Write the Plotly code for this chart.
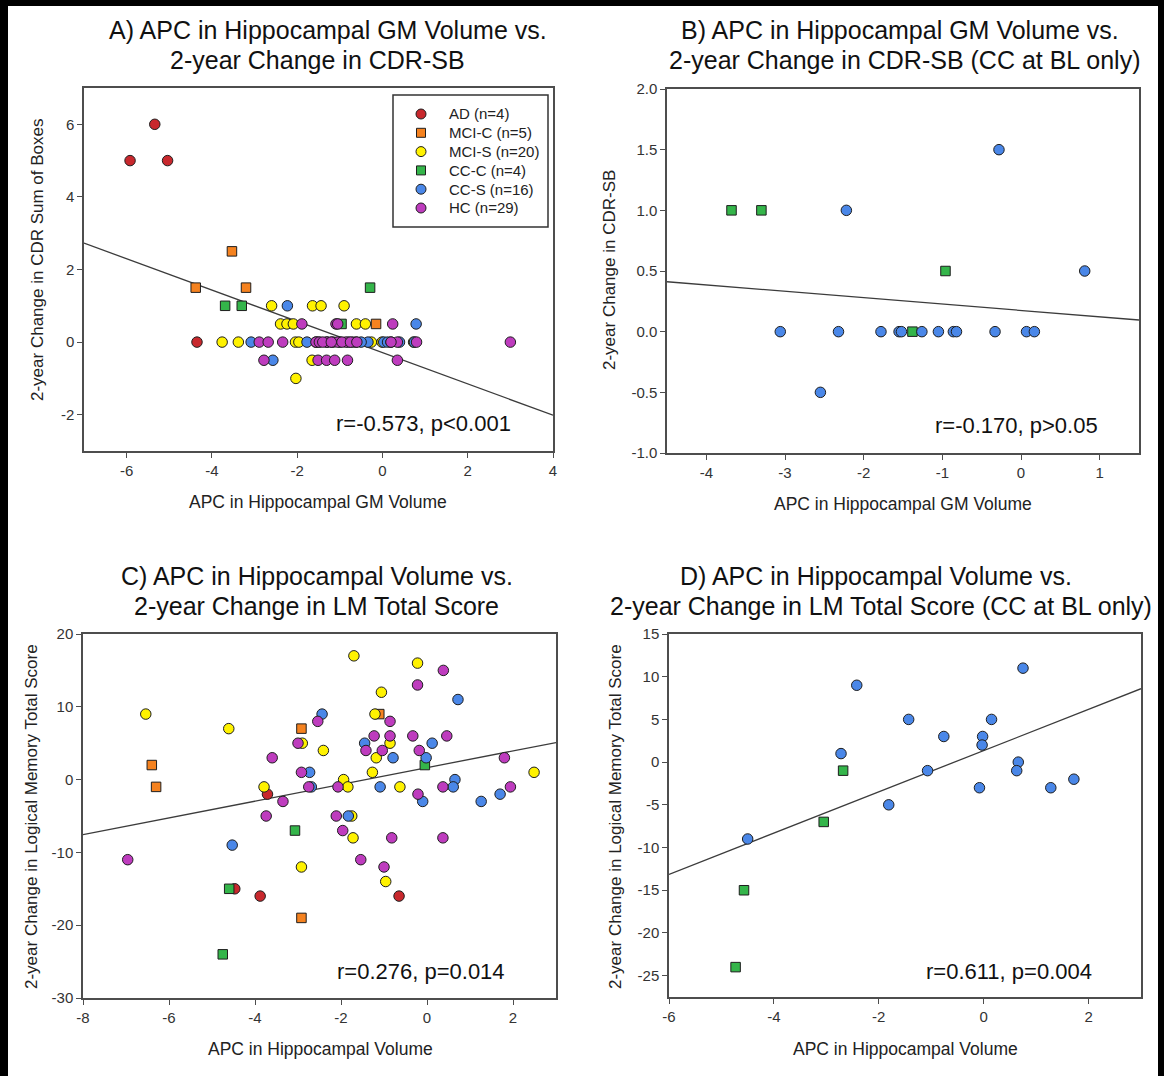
import plotly.graph_objects as go

W, H = 1164, 1076
FONT = "Liberation Sans, Arial, sans-serif"

# ---------------- Panel A: APC in hippocampal GM volume vs. 2-year change in CDR-SB
a_ad_x = [-5.92, -5.34, -5.04, -4.35]
a_ad_y = [5, 6, 5, 0]
a_mcic_x = [-3.53, -4.38, -3.20, -0.15, -1.20]
a_mcic_y = [2.5, 1.5, 1.5, 0.5, 0]
a_mcis_x = [-2.60, -1.64, -1.44, -0.90, -2.39, -2.24, -2.09, -0.61, -0.40, -3.76,
            -3.38, -2.04, -1.96, -0.26, -0.01, -1.65, -2.03, -1.56, -0.62, 0.73]
a_mcis_y = [1, 1, 1, 1, 0.5, 0.5, 0.5, 0.5, 0.5, 0,
            0, 0, 0, 0, 0, -0.5, -1, 0, 0, 0]
a_ccc_x = [-3.69, -3.30, -0.29, -0.96]
a_ccc_y = [1, 1, 1.5, 0.5]
a_ccs_x = [-2.23, 0.79, -3.08, -1.77, -0.34, 0.03, 0.12, -2.57,
           0.75, -1.50, -1.30, -1.00, -0.80, 0.20, 0.40, -0.50]
a_ccs_y = [1, 0.5, 0, 0, 0, 0, 0, -0.5,
           0, 0, 0, 0, 0, 0, 0, 0]
a_hc_x = [-1.89, -1.09, -1.05, 0.24,
          -2.89, -2.68, -2.34, -1.56, -1.48, -1.31, -1.17, -1.05, -0.86, -0.70, 0.35, 0.80, 3.00,
          -2.78, -1.51, -1.31, -1.12, -0.82, 0.35,
          -1.40, -1.20, -0.95, -0.75, -0.60, 0.20]
a_hc_y = [0.5, 0.5, 0.5, 0.5,
          0, 0, 0, 0, 0, 0, 0, 0, 0, 0, 0, 0, 0,
          -0.5, -0.5, -0.5, -0.5, -0.5, -0.5,
          0, 0, 0, 0, 0, 0]
fit_a = (-0.431, -0.29)   # slope, intercept
stat_a = "r=-0.573, p<0.001"
ticks_ax = [-6, -4, -2, 0, 2, 4]
ticks_ay = [-2, 0, 2, 4, 6]

# ---------------- Panel B: CC at baseline only
b_ccc_x = [-3.68, -3.30, -0.96, -1.38]
b_ccc_y = [1.0, 1.0, 0.5, 0.0]
b_ccs_x = [-3.06, -2.55, -2.32, -2.22, -1.78, -1.55, -1.52, -1.26,
           -1.05, -0.86, -0.82, -0.33, -0.28, 0.07, 0.17, 0.81]
b_ccs_y = [0.0, -0.5, 0.0, 1.0, 0.0, 0.0, 0.0, 0.0,
           0.0, 0.0, 0.0, 0.0, 1.5, 0.0, 0.0, 0.5]
fit_b = (-0.0525, 0.175)
stat_b = "r=-0.170, p>0.05"
ticks_bx = [-4, -3, -2, -1, 0, 1]
ticks_by = [-1.0, -0.5, 0.0, 0.5, 1.0, 1.5, 2.0]

# ---------------- Panel C: APC in hippocampal volume vs. 2-year change in LM total score
c_ad_x = [-3.71, -4.47, -3.88, -0.65]
c_ad_y = [-2, -15, -16, -16]
c_mcic_x = [-6.40, -6.30, -2.92, -2.92, -1.11]
c_mcic_y = [2, -1, 7, -19, 9]
c_mcis_x = [-6.54, -4.61, -1.70, -0.22, -1.06, -1.21, -2.90, -2.41, -0.86, -1.18,
            -1.27, -1.94, -1.84, -0.63, -3.79, -1.75, -1.72, -2.92, -0.96, 2.49]
c_mcis_y = [9, 7, 17, 16, 12, 9, 5, 4, 5, 3,
            1, 0, -1, -1, -1, -5, -8, -12, -14, 1]
c_ccc_x = [-3.07, -4.60, -4.75, -0.05]
c_ccc_y = [-7, -15, -24, 2]
c_ccs_x = [0.72, -2.44, -1.45, 0.12, -0.79, -0.02, -2.73, -1.09,
           0.65, 0.61, -0.10, 1.26, 1.70, -1.83, -4.53, -2.69]
c_ccs_y = [11, 9, 5, 5, 3, 3, 1, -1,
           0, -1, -3, -3, -2, -5, -9, -1]
c_hc_x = [0.38, -0.22, -2.54, -0.86, -3.00, -1.23, -0.86, -0.33, 0.46, -1.42,
          -1.04, -0.18, -3.60, -2.92, 1.80, -2.75, -2.07, 0.37, 1.94, -3.35,
          -0.21, -3.74, -2.11, -1.96, -0.82, 0.37, -1.54, -1.00, -6.96]
c_hc_y = [15, 13, 8, 8, 5, 6, 6, 6, 6, 4,
          4, 4, 3, 1, 3, -1, -1, -1, -1, -3,
          -2, -5, -5, -7, -8, -8, -11, -12, -11]
fit_c = (1.151, 1.64)
stat_c = "r=0.276, p=0.014"
ticks_cx = [-8, -6, -4, -2, 0, 2]
ticks_cy = [-30, -20, -10, 0, 10, 20]

# ---------------- Panel D: CC at baseline only
d_ccc_x = [-2.68, -3.05, -4.57, -4.73]
d_ccc_y = [-1, -7, -15, -24]
d_ccs_x = [-4.50, -2.72, -2.42, -1.81, -1.43, -1.07, -0.76, -0.08,
           -0.02, -0.03, 0.15, 0.75, 0.66, 0.63, 1.28, 1.72]
d_ccs_y = [-9, 1, 9, -5, 5, -1, 3, -3,
           3, 2, 5, 11, 0, -1, -3, -2]
fit_d = (2.416, 1.35)
stat_d = "r=0.611, p=0.004"
ticks_dx = [-6, -4, -2, 0, 2]
ticks_dy = [-25, -20, -15, -10, -5, 0, 5, 10, 15]

# group names and styles (legend order)
groups = ["AD (n=4)", "MCI-C (n=5)", "MCI-S (n=20)", "CC-C (n=4)", "CC-S (n=16)", "HC (n=29)"]
colors = ["#c8282d", "#f5821f", "#fff200", "#34b54a", "#4a87e8", "#be3cbe"]
symbols = ["circle", "square", "circle", "square", "circle", "circle"]
STYLE = {g: (c, s) for g, c, s in zip(groups, colors, symbols)}

fig = go.Figure()


def pts(x, y, name, xa, ya):
    color, symbol = STYLE[name]
    fig.add_trace(go.Scatter(
        x=x, y=y, mode="markers", name=name, showlegend=False,
        marker=dict(color=color, symbol=symbol, size=10.5 if symbol == "circle" else 9.5,
                    line=dict(color="#1e1e1e", width=1)),
        xaxis=xa, yaxis=ya))


def fit_line(fit, xr, xa, ya):
    slope, icpt = fit
    fig.add_trace(go.Scatter(
        x=list(xr), y=[icpt + slope * v for v in xr], mode="lines", showlegend=False,
        line=dict(color="#3c3c3c", width=1.3), xaxis=xa, yaxis=ya, hoverinfo="skip"))


XR = {"A": (-7, 4), "B": (-4.5, 1.5), "C": (-8, 3), "D": (-6, 3)}
YR = {"A": (-3, 7), "B": (-1, 2), "C": (-30, 20), "D": (-27.5, 15)}

# Panel A
fit_line(fit_a, XR["A"], "x", "y")
for name, x, y in zip(groups, [a_ad_x, a_mcic_x, a_mcis_x, a_ccc_x, a_ccs_x, a_hc_x],
                      [a_ad_y, a_mcic_y, a_mcis_y, a_ccc_y, a_ccs_y, a_hc_y]):
    pts(x, y, name, "x", "y")

# Panel B
fit_line(fit_b, XR["B"], "x2", "y2")
pts(b_ccc_x, b_ccc_y, "CC-C (n=4)", "x2", "y2")
pts(b_ccs_x, b_ccs_y, "CC-S (n=16)", "x2", "y2")

# Panel C
fit_line(fit_c, XR["C"], "x3", "y3")
for name, x, y in zip(groups, [c_ad_x, c_mcic_x, c_mcis_x, c_ccc_x, c_ccs_x, c_hc_x],
                      [c_ad_y, c_mcic_y, c_mcis_y, c_ccc_y, c_ccs_y, c_hc_y]):
    pts(x, y, name, "x3", "y3")

# Panel D
fit_line(fit_d, XR["D"], "x4", "y4")
pts(d_ccc_x, d_ccc_y, "CC-C (n=4)", "x4", "y4")
pts(d_ccs_x, d_ccs_y, "CC-S (n=16)", "x4", "y4")


def px_x(p):
    return p / W


def px_y(p):
    return 1 - p / H


def label(v, fmt):
    return fmt.format(v)  # plain hyphen-minus for negatives


def axis(x0, x1, rng, tv, anchor, fmt="{:g}"):
    return dict(domain=[x0, x1], range=list(rng), anchor=anchor,
                tickvals=tv, ticktext=[label(v, fmt) for v in tv],
                showline=True, mirror=True, linecolor="#4d4d4d", linewidth=1.5,
                ticks="outside", ticklen=5, tickwidth=1.2, tickcolor="#4d4d4d",
                showgrid=False, zeroline=False, fixedrange=True, automargin=False,
                tickfont=dict(size=15, color="#333333", family=FONT))


layout_axes = dict(
    xaxis=axis(px_x(84), px_x(553), XR["A"], ticks_ax, "y"),
    yaxis=axis(px_y(451), px_y(88), YR["A"], ticks_ay, "x"),
    xaxis2=axis(px_x(667), px_x(1139), XR["B"], ticks_bx, "y2"),
    yaxis2=axis(px_y(453), px_y(89), YR["B"], ticks_by, "x2", "{:.1f}"),
    xaxis3=axis(px_x(83), px_x(556), XR["C"], ticks_cx, "y3"),
    yaxis3=axis(px_y(998), px_y(634), YR["C"], ticks_cy, "x3"),
    xaxis4=axis(px_x(669), px_x(1141), XR["D"], ticks_dx, "y4"),
    yaxis4=axis(px_y(997), px_y(634), YR["D"], ticks_dy, "x4"),
)

annotations = []
shapes = []


def text(s, x, y, size, angle=0, anchor="center", color="#111111"):
    annotations.append(dict(text=s, x=px_x(x), y=px_y(y), xref="paper", yref="paper",
                            xanchor=anchor, yanchor="middle", showarrow=False,
                            textangle=angle, font=dict(size=size, color=color, family=FONT)))


# panel titles
TS = 25
text("A) APC in Hippocampal GM Volume vs.", 328, 30, TS)
text("2-year Change in CDR-SB", 318, 60, TS)
text("B) APC in Hippocampal GM Volume vs.", 900, 30, TS)
text("2-year Change in CDR-SB (CC at BL only)", 904, 60, TS)
text("C) APC in Hippocampal Volume vs.", 317, 576, TS)
text("2-year Change in LM Total Score", 316, 606, TS)
text("D) APC in Hippocampal Volume vs.", 876, 576, TS)
text("2-year Change in LM Total Score (CC at BL only)", 881, 606, TS)

# axis titles
text("APC in Hippocampal GM Volume", 318, 502, 17.5, color="#222222")
text("2-year Change in CDR Sum of Boxes", 37, 260, 17, -90, color="#222222")
text("APC in Hippocampal GM Volume", 903, 504, 17.5, color="#222222")
text("2-year Change in CDR-SB", 609, 270, 17, -90, color="#222222")
text("APC in Hippocampal Volume", 320, 1049, 17.5, color="#222222")
text("2-year Change in Logical Memory Total Score", 31, 817, 17, -90, color="#222222")
text("APC in Hippocampal Volume", 905, 1049, 17.5, color="#222222")
text("2-year Change in Logical Memory Total Score", 615, 817, 17, -90, color="#222222")

# correlation statistics
text(stat_a, 513, 424, 22, anchor="right")
text(stat_b, 1100, 425, 22, anchor="right")
text(stat_c, 507, 971, 22, anchor="right")
text(stat_d, 1094, 971, 22, anchor="right")

# group key for panel A, drawn as a boxed list of symbols and labels
box = dict(x0=393, x1=548, y0=95, y1=227)
shapes.append(dict(type="rect", xref="paper", yref="paper",
                   x0=px_x(box["x0"]), x1=px_x(box["x1"]),
                   y0=px_y(box["y1"]), y1=px_y(box["y0"]),
                   fillcolor="white", line=dict(color="#333333", width=1.5), layer="above"))
row0, row_step = 114, 18.8
for i, g in enumerate(groups):
    color, symbol = STYLE[g]
    cy = row0 + i * row_step
    r = 5 if symbol == "circle" else 4.5
    shapes.append(dict(type="circle" if symbol == "circle" else "rect",
                       xref="paper", yref="paper",
                       x0=px_x(421 - r), x1=px_x(421 + r), y0=px_y(cy + r), y1=px_y(cy - r),
                       fillcolor=color, line=dict(color="#1e1e1e", width=1), layer="above"))
    text(g, 447, cy, 15, anchor="left", color="#222222")

# black frame around the figure
for x0, x1, y0, y1 in [(0, 8, 0, H), (0, W, 0, 6), (1158, W, 0, H)]:
    shapes.append(dict(type="rect", xref="paper", yref="paper",
                       x0=px_x(x0), x1=px_x(x1), y0=px_y(y1), y1=px_y(y0),
                       fillcolor="black", line=dict(width=0), layer="above"))

fig.update_layout(
    width=W, height=H, autosize=False,
    margin=dict(l=0, r=0, t=0, b=0, autoexpand=False),
    paper_bgcolor="white", plot_bgcolor="white",
    font=dict(family=FONT, color="#222222"),
    showlegend=False,
    annotations=annotations,
    shapes=shapes,
    **layout_axes,
)

fig.write_html("out.html")
